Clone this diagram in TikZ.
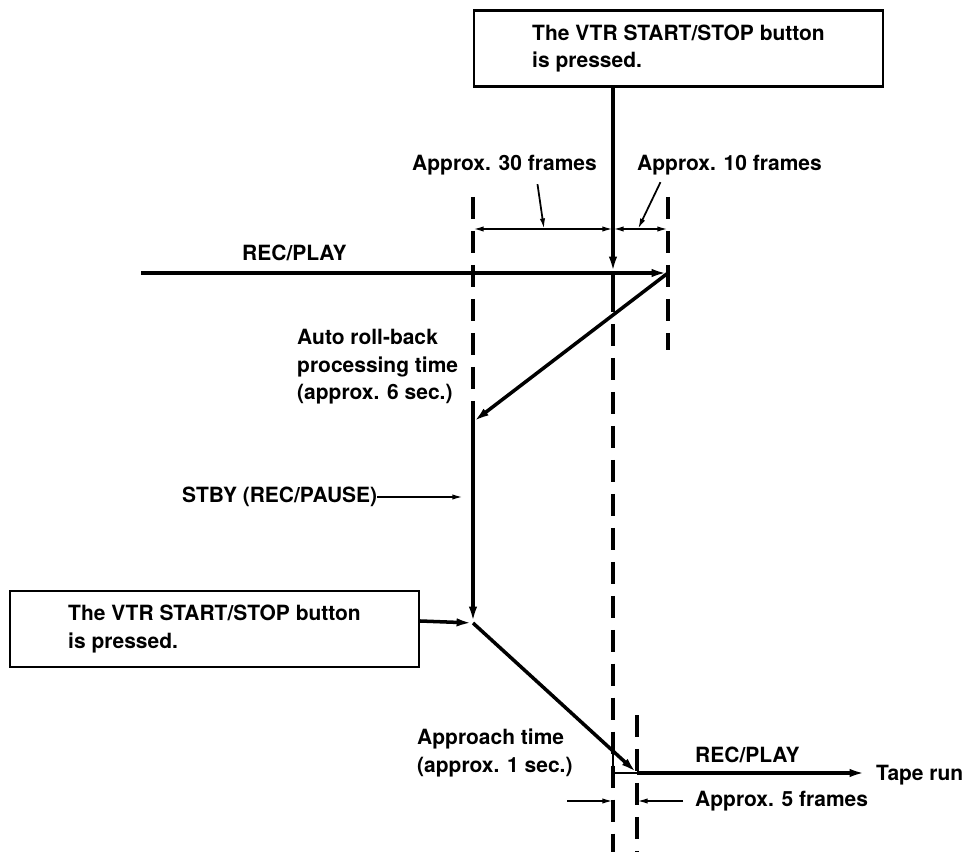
\documentclass[tikz,border=0pt]{standalone}
\usepackage{fontspec}
\setmainfont{TeX Gyre Heros}
\usetikzlibrary{arrows.meta}

\begin{document}
\begin{tikzpicture}[x=0.03cm, y=-0.03cm, >={Latex[length=14pt,width=7pt]},
    font=\fontsize{17.9}{23.5}\selectfont\bfseries,
    lbl/.style={inner sep=0pt, align=left, anchor=west},
    btnbox/.style={draw, line width=2pt, align=left, minimum width=12.27cm, minimum height=2.28cm},
    main/.style={line width=3pt},
    guide/.style={line width=3pt, dash pattern=on 19pt off 10pt},
    dimline/.style={line width=1.5pt, {Latex[length=9pt,width=4.5pt]}-{Latex[length=9pt,width=4.5pt]}},
    pointer/.style={line width=1.5pt, -{Latex[length=9pt,width=4.5pt]}}]
    \useasboundingbox (0,0) rectangle (968,852);

    % 按钮框
    \node[btnbox] (btnA) at (678.5,48.5) {The VTR START/STOP button\\is pressed.};
    \node[btnbox] (btnB) at (214.5,629) {The VTR START/STOP button\\is pressed.};

    % 关键点
    \coordinate (recIn) at (141,273);
    \coordinate (recOut) at (668,273);
    \coordinate (mid) at (613,273);
    \coordinate (midEnd) at (613,290);
    \coordinate (rbEnd) at (473,422);
    \coordinate (stbyEnd) at (473,623);
    \coordinate (apEnd) at (637,773);
    \coordinate (corner) at (613,753);
    \coordinate (runEnd) at (866,773);

    % 虚线
    \coordinate (gL) at (473,197);
    \coordinate (gR) at (668,197);
    \coordinate (gRend) at (668,350);
    \coordinate (gM) at (613,852);
    \coordinate (gN) at (637,715);
    \coordinate (gNend) at (637,852);
    \draw[guide] (gL) -- (rbEnd);
    \draw[guide] (gR) -- (gRend);
    \draw[guide] (midEnd) -- (gM);
    \draw[guide] (gN) -- (gNend);

    % 磁带走向
    \draw[main,->] (btnA.south -| mid) -- (mid);
    \draw[main] (mid) -- (midEnd);
    \draw[main,->] (recIn) -- (recOut);
    \draw[main,->] (recOut) -- (rbEnd);
    \draw[main,->] (rbEnd) -- (stbyEnd);
    \draw[main,->] ([yshift=0.24cm]btnB.east) -- (stbyEnd);
    \draw[main,->] (stbyEnd) -- (apEnd);
    \draw[line width=2.5pt] (corner) -- (corner |- apEnd) -- (apEnd);
    \draw[main,->] (apEnd) -- (runEnd);

    % 文字
    \node[lbl] (recA) at (242,253) {REC/PLAY};
    \node[lbl] (recB) at (695,755) {REC/PLAY};
    \node[lbl] (tape) at (876,775) {Tape run};
    \node[lbl] (roll) at (297,367) {Auto roll-back\\processing time\\(approx. 6 sec.)};
    \node[lbl] (stby) at (182,497) {STBY (REC/PAUSE)};
    \node[lbl] (appr) at (417,753) {Approach time\\(approx. 1 sec.)};
    \node[lbl] (f30) at (412,165) {Approx. 30 frames};
    \node[lbl] (f10) at (637,165) {Approx. 10 frames};
    \node[lbl] (f5) at (695,801) {Approx. 5 frames};

    % 尺寸标注
    \coordinate (dL) at (473,229);
    \coordinate (dM) at (613,229);
    \coordinate (dR) at (668,229);
    \coordinate (p30) at (544,229);
    \coordinate (p10) at (638,229);
    \coordinate (stbyTip) at (463,497);
    \coordinate (d5a) at (567,801);
    \coordinate (d5L) at (613,801);
    \coordinate (d5R) at (637,801);
    \draw[dimline] (dL) -- (dM);
    \draw[dimline] (dM) -- (dR);
    \draw[pointer] ([shift={(33,9)}]f30.south) -- (p30);
    \draw[pointer] ([shift={(-69,7)}]f10.south) -- (p10);
    \draw[pointer] (stby.east) -- (stbyTip);
    \draw[pointer] (d5a) -- (d5L);
    \draw[pointer] ([xshift=-0.36cm]f5.west) -- (d5R);
\end{tikzpicture}
\end{document}
